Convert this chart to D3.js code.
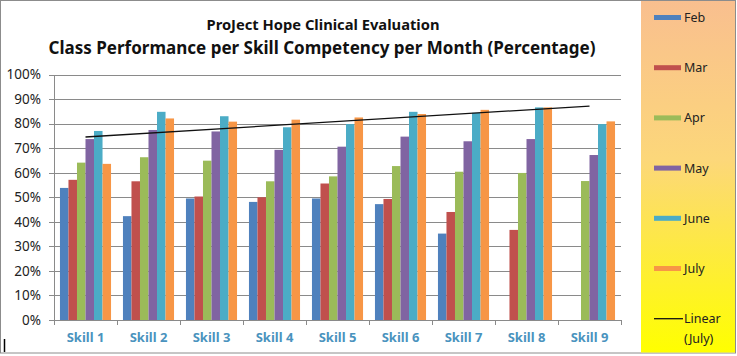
<!DOCTYPE html>
<html><head><meta charset="utf-8">
<script src="https://cdn.jsdelivr.net/npm/d3@7"></script>
<style>body{margin:0;background:#fff}svg{display:block}text{font-family:"Noto Sans",sans-serif}</style>
</head><body><svg id="c" width="737" height="356"></svg>
<script>
const skills = ["Skill 1","Skill 2","Skill 3","Skill 4","Skill 5","Skill 6","Skill 7","Skill 8","Skill 9"];
const months = ["Feb","Mar","Apr","May","June","July"];
const feb  = [53.8, 42.3, 49.5, 48.1, 49.5, 47.2, 35.2, null, null];
const mar  = [57.1, 56.5, 50.3, 50.0, 55.6, 49.3, 44.0, 36.7, null];
const apr  = [64.1, 66.3, 64.9, 56.5, 58.5, 62.7, 60.4, 59.9, 56.6];
const may  = [73.7, 77.4, 76.8, 69.3, 70.6, 74.7, 72.8, 73.7, 67.2];
const june = [77.0, 84.8, 83.0, 78.5, 79.8, 84.8, 84.4, 86.6, 79.8];
const july = [63.6, 82.1, 80.8, 81.6, 82.5, 83.9, 85.6, 86.6, 80.9];
const yTicks = [0,10,20,30,40,50,60,70,80,90,100];
const colors = ["#4F81BD","#C0504D","#9BBB59","#8064A2","#4BACC6","#F79646"];
const title1 = "ProJect Hope Clinical Evaluation";
const title2 = "Class Performance per Skill Competency per Month (Percentage)";
const trendLabel = ["Linear","(July)"];

const series = [feb, mar, apr, may, june, july];
const svg = d3.select("#c");

const defs = svg.append("defs");
const g = defs.append("linearGradient").attr("id","lg").attr("x1",0).attr("y1",0).attr("x2",0).attr("y2",1);
g.append("stop").attr("offset","0%").attr("stop-color","#F9BF8F");
g.append("stop").attr("offset","45%").attr("stop-color","#FCD77A");
g.append("stop").attr("offset","100%").attr("stop-color","#FFFF00");

svg.append("rect").attr("x",0.5).attr("y",0.5).attr("width",735).attr("height",352.5).attr("fill","#fff").attr("stroke","#8c8c8c");
svg.append("rect").attr("x",641).attr("y",1).attr("width",94).attr("height",351.5).attr("fill","url(#lg)");

const x0 = d3.scaleBand().domain(skills).range([54,621]).padding(0);
const x1 = d3.scaleBand().domain(months).range([0,x0.bandwidth()]).paddingInner(0).paddingOuter(0.7);
const y = d3.scaleLinear().domain([0,100]).range([320,74.5]);

svg.append("g").selectAll("line").data(yTicks).join("line")
  .attr("x1",49).attr("x2",621).attr("y1",d=>Math.round(y(d))+0.5).attr("y2",d=>Math.round(y(d))+0.5)
  .attr("stroke","#8a8a8a").attr("stroke-width",1);

const ya = svg.append("g").attr("transform","translate(54,0)")
  .call(d3.axisLeft(y).tickValues(yTicks).tickFormat(d=>d+"%").tickSize(0).tickPadding(13));
ya.select(".domain").attr("stroke","#8a8a8a");
ya.selectAll("text").attr("font-size",13.5).attr("fill","#222");

const groups = svg.append("g").selectAll("g").data(skills).join("g")
  .attr("transform",d=>`translate(${x0(d)},0)`);
groups.selectAll("rect").data((d,i)=>months.map((m,j)=>({m, v: series[j][i], c: colors[j]})).filter(e=>e.v!=null))
  .join("rect")
  .attr("x",d=>x1(d.m)).attr("width",x1.bandwidth())
  .attr("y",d=>y(d.v)).attr("height",d=>y(0)-y(d.v)).attr("fill",d=>d.c);

const xa = svg.append("g").attr("transform","translate(0,320)")
  .call(d3.axisBottom(x0).tickSize(0).tickPadding(13));
xa.select(".domain").attr("stroke","#8a8a8a");
xa.selectAll("text").attr("font-size",13).attr("font-weight","bold").attr("fill","#4A93BE");
svg.append("g").selectAll("line").data(d3.range(skills.length+1)).join("line")
  .attr("x1",i=>Math.round(54+i*x0.step())+0.5).attr("x2",i=>Math.round(54+i*x0.step())+0.5)
  .attr("y1",320).attr("y2",325).attr("stroke","#8a8a8a");

const xs = d3.range(1, july.length+1);
const mx = d3.mean(xs), my = d3.mean(july);
const slope = d3.sum(xs, (xx,i)=>(xx-mx)*(july[i]-my)) / d3.sum(xs, xx=>(xx-mx)**2);
const icpt = my - slope*mx;
svg.append("line")
  .attr("x1",x0(skills[0])+x0.bandwidth()/2).attr("y1",y(icpt+slope*1))
  .attr("x2",x0(skills[skills.length-1])+x0.bandwidth()/2).attr("y2",y(icpt+slope*skills.length))
  .attr("stroke","#111").attr("stroke-width",1.3);

svg.append("text").attr("x",323).attr("y",30).attr("text-anchor","middle")
  .attr("font-size",13.5).attr("font-weight","bold").attr("fill","#111")
  .attr("textLength",233).attr("lengthAdjust","spacingAndGlyphs").text(title1);
svg.append("text").attr("x",322).attr("y",54).attr("text-anchor","middle")
  .attr("font-size",17.5).attr("font-weight","bold").attr("fill","#111")
  .attr("textLength",547).attr("lengthAdjust","spacingAndGlyphs").text(title2);

const lg = svg.append("g");
months.forEach((m,i)=>{
  const yy = 17.5 + i*50.2;
  lg.append("rect").attr("x",654).attr("y",yy-2.5).attr("width",27).attr("height",5).attr("fill",colors[i]);
  lg.append("text").attr("x",684).attr("y",yy+4.5).attr("font-size",12.5).attr("fill","#222").text(m);
});
const ly = 17.5 + 6*50.2;
lg.append("line").attr("x1",654).attr("x2",683).attr("y1",ly).attr("y2",ly).attr("stroke","#111").attr("stroke-width",1.3);
lg.append("text").attr("x",684).attr("y",ly+4.5).attr("font-size",12.5).attr("fill","#222").text(trendLabel[0]);
lg.append("text").attr("x",684).attr("y",ly+24).attr("font-size",12.5).attr("fill","#222").text(trendLabel[1]);

svg.append("line").attr("x1",4.5).attr("x2",4.5).attr("y1",339).attr("y2",352).attr("stroke","#000").attr("stroke-width",1.5);
</script></body></html>
